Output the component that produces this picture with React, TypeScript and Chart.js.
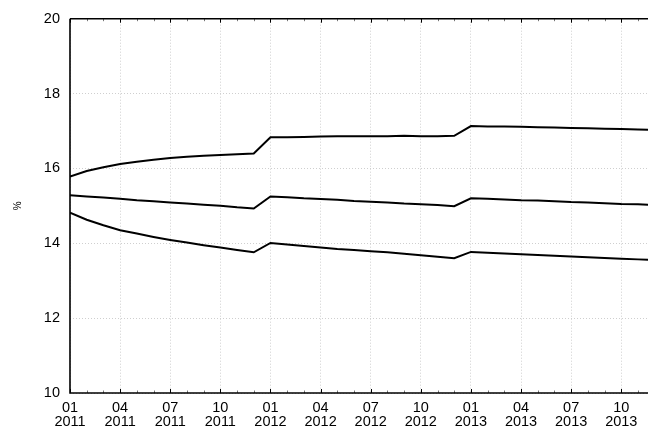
import React, { useEffect, useRef } from "react";
import { Chart, registerables } from "chart.js";

Chart.register(...registerables);

const monthLabels = ["01", "02", "03", "04", "05", "06", "07", "08", "09", "10", "11", "12"];
const yearLabels = ["2011", "2012", "2013"];

const upperSeries = [
  15.78, 15.93, 16.03, 16.12, 16.18, 16.23, 16.28, 16.31, 16.34, 16.36, 16.38, 16.40,
  16.83, 16.83, 16.84, 16.85, 16.86, 16.86, 16.86, 16.86, 16.87, 16.86, 16.86, 16.87,
  17.13, 17.12, 17.12, 17.11, 17.10, 17.09, 17.08, 17.07, 17.06, 17.05, 17.04, 17.03,
];
const middleSeries = [
  15.28, 15.25, 15.22, 15.19, 15.15, 15.12, 15.09, 15.06, 15.03, 15.00, 14.96, 14.93,
  15.25, 15.23, 15.20, 15.18, 15.16, 15.13, 15.11, 15.09, 15.06, 15.04, 15.02, 14.99,
  15.20, 15.19, 15.17, 15.15, 15.14, 15.12, 15.10, 15.09, 15.07, 15.05, 15.04, 15.02,
];
const lowerSeries = [
  14.82, 14.63, 14.48, 14.35, 14.26, 14.17, 14.09, 14.02, 13.95, 13.89, 13.82, 13.76,
  14.01, 13.97, 13.93, 13.89, 13.85, 13.82, 13.79, 13.76, 13.72, 13.68, 13.64, 13.60,
  13.77, 13.75, 13.73, 13.71, 13.69, 13.67, 13.65, 13.63, 13.61, 13.59, 13.57, 13.55,
];

const yMin = 10;
const yMax = 20;
const yStep = 2;
const xMax = 34.6;
const yTitle = "%";

const FONT = "'Liberation Sans', Arial, sans-serif";
const GRID = "#cfcfcf";

const toPoints = (arr: number[]) => arr.map((v, i) => ({ x: i, y: v }));

const framePlugin = {
  id: "framePlugin",
  afterDraw(chart: any) {
    const { ctx, chartArea } = chart;
    const xs = chart.scales.x;
    ctx.save();
    ctx.lineWidth = 1;
    for (let i = 0; i <= Math.floor(xMax); i++) {
      const major = i % 3 === 0;
      const px = Math.round(xs.getPixelForValue(i)) + 0.5;
      const len = major ? 4 : 2.5;
      ctx.strokeStyle = major ? "#000" : "#777";
      ctx.beginPath();
      ctx.moveTo(px, chartArea.bottom);
      ctx.lineTo(px, chartArea.bottom - len);
      ctx.moveTo(px, chartArea.top);
      ctx.lineTo(px, chartArea.top + len);
      ctx.stroke();
    }
    ctx.strokeStyle = "#000";
    ctx.lineWidth = 1.6;
    ctx.beginPath();
    ctx.moveTo(chartArea.left, chartArea.top);
    ctx.lineTo(chartArea.left, chartArea.bottom);
    ctx.lineTo(chartArea.right, chartArea.bottom);
    ctx.moveTo(chartArea.left, chartArea.top);
    ctx.lineTo(chartArea.right, chartArea.top);
    ctx.stroke();
    ctx.restore();
  },
};

export default function App() {
  const ref = useRef<HTMLCanvasElement | null>(null);
  useEffect(() => {
    document.body.style.margin = "0";
    const canvas = ref.current;
    if (!canvas) return;
    const chart = new Chart(canvas, {
      type: "line",
      data: {
        datasets: [upperSeries, middleSeries, lowerSeries].map((s) => ({
          data: toPoints(s),
          borderColor: "#000",
          borderWidth: 2,
          pointRadius: 0,
          fill: false,
          tension: 0,
        })),
      },
      options: {
        animation: false,
        responsive: false,
        maintainAspectRatio: false,
        layout: { padding: { top: 10, left: 12, right: 0, bottom: 0 } },
        plugins: { legend: { display: false }, tooltip: { enabled: false } },
        scales: {
          x: {
            type: "linear",
            min: 0,
            max: xMax,
            border: { display: false, dash: [1, 2] },
            grid: {
              drawTicks: false,
              color: (c: any) =>
                c.tick && Number.isInteger(c.tick.value) && c.tick.value % 3 === 0
                  ? GRID
                  : "rgba(0,0,0,0)",
              lineWidth: 1,
            },
            ticks: {
              stepSize: 1,
              includeBounds: false,
              autoSkip: false,
              maxRotation: 0,
              padding: 8,
              color: "#000",
              font: { family: FONT, size: 14.5, lineHeight: "14px" },
              callback: (v: any) => {
                const i = Number(v);
                if (!Number.isInteger(i) || i % 3 !== 0) return "";
                return [monthLabels[i % 12], yearLabels[Math.floor(i / 12)]];
              },
            },
            afterFit: (scale: any) => {
              scale.height = 37;
            },
          },
          y: {
            min: yMin,
            max: yMax,
            border: { display: false, dash: [1, 2] },
            grid: { drawTicks: false, color: GRID, lineWidth: 1 },
            ticks: {
              stepSize: yStep,
              padding: 10,
              color: "#000",
              font: { family: FONT, size: 14.5 },
            },
            title: {
              display: true,
              text: yTitle,
              color: "#000",
              font: { family: FONT, size: 10 },
              padding: { top: 0, bottom: 0 },
            },
            afterFit: (scale: any) => {
              scale.width = 58;
            },
          },
        },
      },
      plugins: [framePlugin],
    });
    return () => chart.destroy();
  }, []);
  return (
    <div style={{ width: 648, height: 430 }}>
      <canvas ref={ref} width={648} height={430} style={{ display: "block" }} />
    </div>
  );
}
